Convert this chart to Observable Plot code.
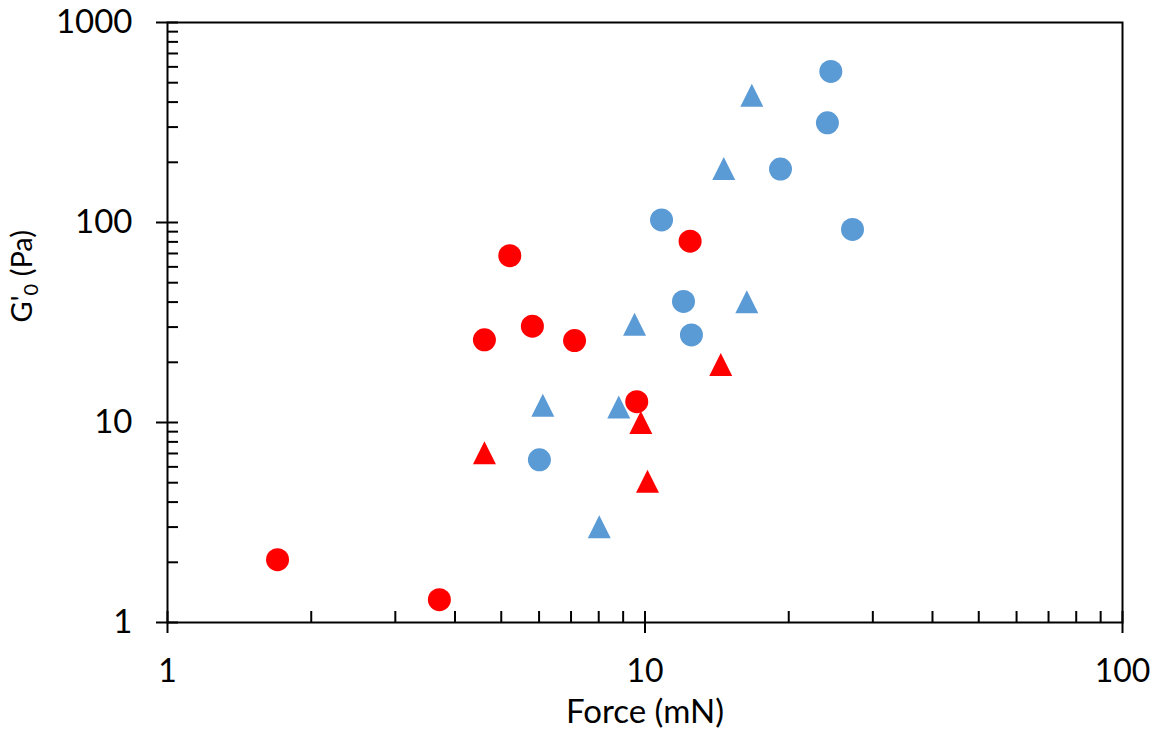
<!DOCTYPE html>
<html><head><meta charset="utf-8">
<script src="https://cdn.jsdelivr.net/npm/d3@7"></script>
<script src="https://cdn.jsdelivr.net/npm/@observablehq/plot@0.6"></script>
<style>body{margin:0;background:#fff} svg{display:block}</style>
</head><body><div id="chart"></div>
<script>
// Data
const blueCircleForce = [10.83, 12.04, 12.51, 6.01, 24.5, 24.1, 19.22, 27.2];
const blueCircleG     = [103, 40.3, 27.4, 6.51, 569, 315, 185, 92.3];
const blueTriForce    = [16.34, 9.51, 6.11, 8.81, 8.02, 16.74, 14.62];
const blueTriG        = [40.1, 31.0, 12.2, 11.97, 3.01, 433, 186];
const redCircleForce  = [12.43, 5.21, 5.81, 4.61, 7.12, 9.61, 1.70, 3.71];
const redCircleG      = [80.6, 68.2, 30.3, 25.9, 25.7, 12.7, 2.06, 1.30];
const redTriForce     = [14.41, 9.80, 4.61, 10.12];
const redTriG         = [19.5, 10.0, 7.06, 5.09];

const xMajorTicks = [1, 10, 100];
const xMinorTicks = [2, 3, 4, 5, 6, 7, 8, 9, 20, 30, 40, 50, 60, 70, 80, 90];
const yMajorTicks = [1, 10, 100, 1000];
const yMinorTicks = [2, 3, 4, 5, 6, 7, 8, 9, 20, 30, 40, 50, 60, 70, 80, 90, 200, 300, 400, 500, 600, 700, 800, 900];

const xLabel = "Force (mN)";
const yLabel = "G'0 (Pa)";

const BLUE = "#5B9BD5";
const RED = "#FF0000";

const zip = (xs, ys) => xs.map((x, i) => ({force: x, g: ys[i]}));

// Excel-like isosceles triangle (width == height), centred on its bounding box
const excelTriangle = {
  draw(ctx, size) {
    const h = Math.sqrt(size / Math.PI) * 2;
    ctx.moveTo(0, -h / 2);
    ctx.lineTo(h / 2, h / 2);
    ctx.lineTo(-h / 2, h / 2);
    ctx.closePath();
  }
};

const W = 1157, H = 742;
const mL = 167, mR = 35, mT = 22, mB = 120;
const plotW = W - mL - mR, plotH = H - mT - mB;
const tick = 11;

const chart = Plot.plot({
  width: W, height: H,
  marginLeft: mL, marginRight: mR, marginTop: mT, marginBottom: mB,
  x: {type: "log", domain: [1, 100]},
  y: {type: "log", domain: [1, 1000]},
  style: {fontFamily: "Lato, 'Open Sans', sans-serif", color: "#000", background: "#fff"},
  marks: [
    Plot.ruleX(xMinorTicks, {stroke: "#000", strokeWidth: 2, insetTop: plotH - tick}),
    Plot.ruleX(xMajorTicks, {stroke: "#000", strokeWidth: 2, insetTop: plotH - tick, insetBottom: -tick}),
    Plot.ruleY(yMinorTicks, {stroke: "#000", strokeWidth: 2, insetRight: plotW - tick}),
    Plot.ruleY(yMajorTicks, {stroke: "#000", strokeWidth: 2, insetRight: plotW - tick, insetLeft: -tick}),
    Plot.frame({stroke: "#000", strokeWidth: 2}),
    Plot.axisX({ticks: xMajorTicks, tickSize: 0, tickPadding: 37, fontSize: 32, tickFormat: d => String(d), label: null}),
    Plot.axisY({ticks: yMajorTicks, tickSize: 0, tickPadding: 35, fontSize: 33, tickFormat: d => String(d), label: null}),
    Plot.dot(zip(blueCircleForce, blueCircleG), {x: "force", y: "g", r: 11.5, fill: BLUE, symbol: "circle"}),
    Plot.dot(zip(blueTriForce, blueTriG), {x: "force", y: "g", r: 11.5, fill: BLUE, symbol: excelTriangle}),
    Plot.dot(zip(redCircleForce, redCircleG), {x: "force", y: "g", r: 11.5, fill: RED, symbol: "circle"}),
    Plot.dot(zip(redTriForce, redTriG), {x: "force", y: "g", r: 11.5, fill: RED, symbol: excelTriangle}),
    Plot.text([xLabel], {frameAnchor: "bottom", dy: 100, fontSize: 33, fill: "#000"}),
    Plot.text([yLabel], {frameAnchor: "left", dx: -145, rotate: -90, fontSize: 29, fill: "#000"})
  ]
});

// subscript the "0" in G'0
d3.select(chart).selectAll("text").each(function() {
  if (this.textContent === yLabel) {
    const t = d3.select(this);
    t.text(null);
    t.append("tspan").text("G'");
    t.append("tspan").attr("font-size", "20px").attr("dy", "6").text("0");
    t.append("tspan").attr("dy", "-6").text(" (Pa)");
  }
});

document.getElementById("chart").appendChild(chart);
</script>
</body></html>
